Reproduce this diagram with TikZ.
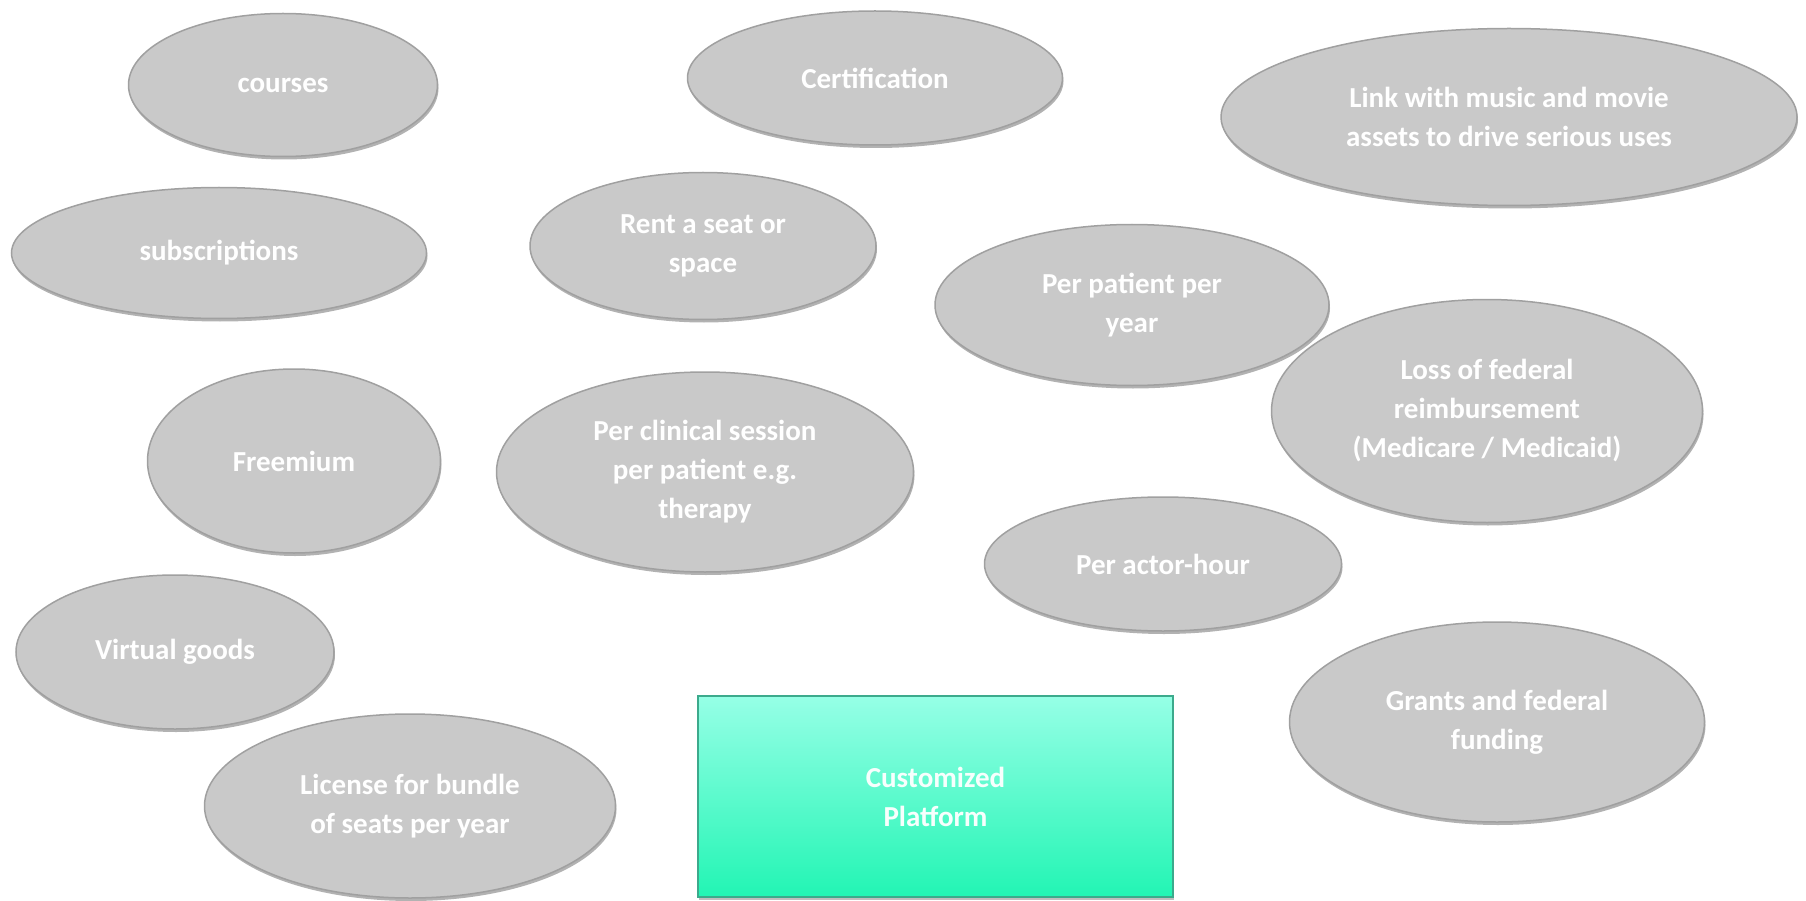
\documentclass[tikz,border=0pt]{standalone}
\usepackage{fontspec}
\setmainfont{Carlito}
\usetikzlibrary{shapes.geometric,shadows}
\definecolor{ellfill}{RGB}{201,201,201}
\definecolor{ellrim}{RGB}{160,160,160}
\definecolor{recttop}{RGB}{150,255,230}
\definecolor{rectbot}{RGB}{34,245,180}
\definecolor{rectrim}{RGB}{60,170,140}
\tikzset{
  bubble/.style={ellipse, inner sep=0pt, fill=ellfill, draw=ellrim, line width=1.5pt,
    drop shadow={shadow xshift=1pt, shadow yshift=-3pt, opacity=0.3, fill=black},
    text=white, align=center, font=\bfseries\fontsize{29}{39}\selectfont},
  platform/.style={rectangle, inner sep=0pt, top color=recttop, bottom color=rectbot,
    draw=rectrim, line width=1.5pt, text=white!92!recttop, align=center,
    drop shadow={shadow xshift=1pt, shadow yshift=-3pt, opacity=0.25, fill=black},
    font=\bfseries\fontsize{29}{39}\selectfont}
}
\begin{document}
\begin{tikzpicture}[x=1pt,y=-1pt]
\useasboundingbox (0,0) rectangle (1806,901);
\fill[white] (0,0) rectangle (1806,901);
\node[bubble, minimum width=309pt, minimum height=143pt] (courses) at (283,85) {courses};
\node[bubble, minimum width=375pt, minimum height=134pt] (cert) at (875,78) {Certification};
\node[bubble, minimum width=576pt, minimum height=177pt] (link) at (1509,117) {Link with music and movie\\assets to drive serious uses};
\node[bubble, minimum width=415pt, minimum height=131pt] (subs) at (219,253) {subscriptions};
\node[bubble, minimum width=346pt, minimum height=147pt] (rent) at (703,246) {Rent a seat or\\space};
\node[bubble, minimum width=394pt, minimum height=161pt] (ppy) at (1132,305) {Per patient per\\year};
\node[bubble, minimum width=431pt, minimum height=223pt] (loss) at (1487,411) {Loss of federal\\reimbursement\\(Medicare / Medicaid)};
\node[bubble, minimum width=293pt, minimum height=184pt] (free) at (294,461) {Freemium};
\node[bubble, minimum width=417pt, minimum height=200pt] (clin) at (705,472) {Per clinical session\\per patient e.g.\\therapy};
\node[bubble, minimum width=357pt, minimum height=134pt] (actor) at (1163,564) {Per actor-hour};
\node[bubble, minimum width=318pt, minimum height=154pt] (virt) at (175,652) {Virtual goods};
\node[bubble, minimum width=415pt, minimum height=200pt] (grants) at (1497,722) {Grants and federal\\funding};
\node[bubble, minimum width=411pt, minimum height=184pt] (lic) at (410,806) {License for bundle\\of seats per year};
\node[platform, minimum width=475pt, minimum height=201pt] (plat) at (935.5,796.5) {Customized\\Platform};
\end{tikzpicture}
\end{document}
